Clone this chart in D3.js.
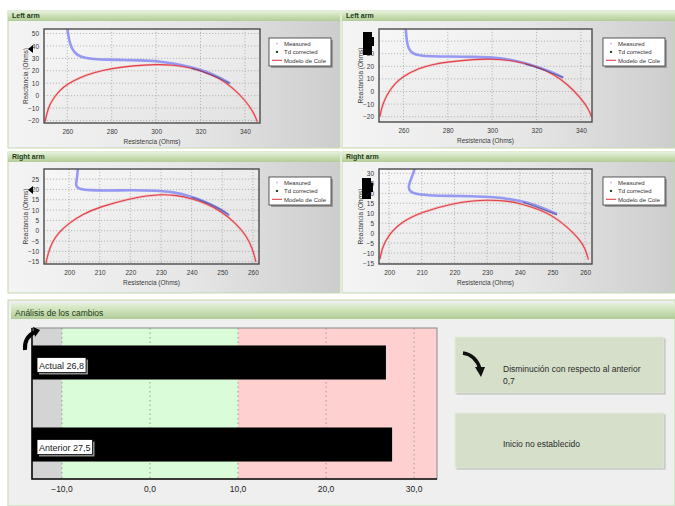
<!DOCTYPE html>
<html>
<head>
<meta charset="utf-8">
<script src="https://cdn.jsdelivr.net/npm/d3@7"></script>
<style>
body { margin: 0; background: #fff; }
svg { display: block; font-family: "Liberation Sans", Arial, sans-serif; }
</style>
</head>
<body>
<svg id="chart" width="675" height="506"></svg>
<script>
// ---- impedance panels ----
const panelTitles = ["Left arm", "Left arm", "Right arm", "Right arm"];
const legendLabels = ["Measured", "Td corrected", "Modelo de Cole"];

const leftArm1Measured = [[260,54],[260.9,43.4],[262,38.1],[263.5,34.1],[265.7,31.3],[270.2,29.5],[277.7,28.9],[285.2,28.7],[292.7,28.4],[300.3,27.9],[307.7,26],[315.3,23.3],[322.8,19.3],[328.8,14.4],[333.3,9.9]];
const leftArm1Td = [[316,22],[321,19.4],[325.5,16.2],[329.5,13.2],[333,10]];
const leftArm1Cole = [[250,-21],[250.8,-14],[252,-7.5],[254,-1.5],[256.7,4.5],[260,9.3],[265.7,14.6],[271.7,18.5],[280,21.9],[289.7,24.1],[300,25.2],[307.7,24.7],[315.3,22.5],[320,20.2],[328.8,14],[334.8,5.9],[340,-3.5],[343.8,-12.9],[345.6,-21]];

const leftArm2Measured = [[261,51],[261.5,39.8],[262.2,34.5],[263.7,30.5],[266.7,28.6],[272.7,27.8],[280.2,27.8],[292.2,27.5],[300,27],[307.2,25.7],[314.7,22.5],[322.2,18.5],[328.2,14.5],[332,11]];
const leftArm2Td = [[315,21.8],[320,19.2],[325,16],[329,13.2],[332,11]];
const leftArm2Cole = [[249.4,-20],[250.2,-13],[251.5,-6.5],[253.5,0],[256.3,6.5],[260,12.2],[266.7,18.3],[273,21.5],[280,23.5],[292.2,25.6],[300,25.9],[310.2,24.6],[320,20],[328.2,13.4],[334.2,5.4],[340,-5.3],[343.3,-13.3],[344.8,-20]];

const rightArm1Measured = [[202.9,31],[202.6,25.3],[202.2,22.9],[202.4,21.2],[203.5,20.1],[206.7,19.6],[212.2,19.4],[220.8,19.7],[228.5,19.4],[233.9,18.8],[239.3,16.8],[244.8,13.9],[249.1,10.7],[252.3,7.4]];
const rightArm1Td = [[240,16.2],[244,14.2],[248,11.6],[252,8]];
const rightArm1Cole = [[192.4,-15.9],[193.2,-10.5],[194.5,-5.5],[196.5,-1],[200,3.8],[204.6,8.1],[210,11.6],[220,15.6],[225.2,16.9],[230.1,17.6],[235,17.2],[239.9,15.6],[244.8,13.2],[250,9.1],[254.5,3.5],[257.8,-2.2],[259.9,-8.6],[261,-15.1]];

const rightArm2Measured = [[208,33],[206.8,27.5],[205.8,23.3],[206.3,20.8],[208.3,19.5],[212.9,18.8],[221,18.7],[229.1,18.3],[236.2,17.5],[242.2,15.5],[247.3,12.5],[251.4,9.5]];
const rightArm2Td = [[241,15.4],[245,13.2],[248.5,11],[251.4,9.3]];
const rightArm2Cole = [[197.2,-13],[197.8,-8],[199,-3.5],[200.8,0.8],[203.8,5.5],[209.8,10.6],[219.8,15],[226,16.3],[229.9,16.6],[236.2,16.2],[239.9,15],[246.3,11.7],[250.4,8.3],[254.4,3.3],[258,-2.5],[260,-7.5],[261,-13.3]];

const xTicksLeft = [260, 280, 300, 320, 340];
const xTicksRight = [200, 210, 220, 230, 240, 250, 260];
const yTicksLeft1 = [-20, -10, 0, 10, 20, 30, 40, 50];
const yTicksLeft2 = [-20, -10, 0, 10, 20, 30, 40];
const yTicksRight1 = [-15, -10, -5, 0, 5, 10, 15, 20, 25];
const yTicksRight2 = [-15, -10, -5, 0, 5, 10, 15, 20, 25, 30];

// ---- change analysis ----
const barCategories = ["Actual", "Anterior"];
const barValues = [26.8, 27.5];
const zoneEdges = [-10, 10];
const barTicks = [-10, 0, 10, 20, 30];
const changeText = ["Disminución con respecto al anterior", "0,7"];
const startText = "Inicio no establecido";

const svg = d3.select("#chart");
const defs = svg.append("defs");

function grad(id, x2, y2, stops) {
    const g = defs.append("linearGradient").attr("id", id)
        .attr("x1", "0%").attr("y1", "0%").attr("x2", x2).attr("y2", y2);
    stops.forEach(s => g.append("stop").attr("offset", s[0]).attr("stop-color", s[1]));
}
grad("panelBg", "100%", "0%", [["0%", "#f4f4f4"], ["55%", "#e6e6e6"], ["100%", "#cdcdcd"]]);
grad("plotBg", "100%", "100%", [["0%", "#f7f7f7"], ["100%", "#e2e2e2"]]);
grad("header", "0%", "100%", [["0%", "#e6f0dc"], ["45%", "#cde2b8"], ["100%", "#b2cc98"]]);

const fmtComma = v => d3.format(".1f")(v).replace(".", ",");

function header(x, y, w, h, title, bold, size) {
    svg.append("rect").attr("x", x).attr("y", y).attr("width", w).attr("height", h)
        .attr("fill", "url(#header)");
    svg.append("text").attr("x", x + 4).attr("y", y + h - 3)
        .attr("font-size", size).attr("font-weight", bold ? "bold" : "normal")
        .attr("fill", "#243a1c").text(title);
}

function drawPanel(p) {
    const [px, py, pw, ph] = p.box;
    svg.append("rect").attr("x", px).attr("y", py).attr("width", pw).attr("height", ph)
        .attr("fill", "url(#panelBg)").attr("stroke", "#c3d8ae");
    header(px, py, pw, 10, p.title, true, 7);

    const [l, t, r, b] = p.plot;
    const x = d3.scaleLinear().domain(p.xDomain).range([l, r]);
    const y = d3.scaleLinear().domain(p.yDomain).range([b, t]);

    svg.append("rect").attr("x", l).attr("y", t).attr("width", r - l).attr("height", b - t)
        .attr("fill", "url(#plotBg)");

    const grid = svg.append("g").attr("stroke", "#a9a9a9").attr("stroke-dasharray", "1.2,1.8").attr("stroke-width", 0.8);
    p.xTicks.forEach(v => grid.append("line").attr("x1", x(v)).attr("x2", x(v)).attr("y1", t).attr("y2", b));
    p.yTicks.forEach(v => grid.append("line").attr("x1", l).attr("x2", r).attr("y1", y(v)).attr("y2", y(v)));

    const clipId = "clip" + p.id;
    defs.append("clipPath").attr("id", clipId).append("rect")
        .attr("x", l).attr("y", t).attr("width", r - l).attr("height", b - t);
    const marks = svg.append("g").attr("clip-path", `url(#${clipId})`);
    const line = d3.line().x(d => x(d[0])).y(d => y(d[1])).curve(d3.curveBasis);

    marks.append("path").attr("d", line(p.cole)).attr("fill", "none")
        .attr("stroke", "#f4a0a0").attr("stroke-width", 2.4).attr("opacity", 0.6);
    marks.append("path").attr("d", line(p.measured)).attr("fill", "none")
        .attr("stroke", "#8589f2").attr("stroke-width", 2.6).attr("opacity", 0.85);
    marks.append("path").attr("d", line(p.cole)).attr("fill", "none")
        .attr("stroke", "#e0404a").attr("stroke-width", 1.1);
    marks.append("path").attr("d", line(p.td)).attr("fill", "none")
        .attr("stroke", "#4b3f7a").attr("stroke-width", 1.3).attr("opacity", 0.6);

    svg.append("rect").attr("x", l).attr("y", t).attr("width", r - l).attr("height", b - t)
        .attr("fill", "none").attr("stroke", "#4a4a4a").attr("stroke-width", 1.4);

    const ax = svg.append("g").attr("transform", `translate(0,${b})`)
        .call(d3.axisBottom(x).tickValues(p.xTicks).tickSize(0).tickPadding(6));
    const ay = svg.append("g").attr("transform", `translate(${l},0)`)
        .call(d3.axisLeft(y).tickValues(p.yTicks).tickSize(0).tickPadding(5));
    [ax, ay].forEach(a => {
        a.select(".domain").remove();
        a.selectAll("text").attr("font-size", 6.5).attr("fill", "#3a3a3a")
            .attr("font-family", "Liberation Sans, Arial, sans-serif");
    });

    svg.append("text").attr("x", (l + r) / 2).attr("y", b + 21).attr("text-anchor", "middle")
        .attr("font-size", 6.5).attr("fill", "#3a3a3a").text("Resistencia (Ohms)");
    svg.append("text").attr("transform", `translate(${l - 16},${(t + b) / 2}) rotate(-90)`)
        .attr("text-anchor", "middle").attr("font-size", 6.5).attr("fill", "#3a3a3a")
        .text("Reactancia (Ohms)");

    // legend
    const [lx, ly] = p.legend;
    svg.append("rect").attr("x", lx + 2).attr("y", ly + 2).attr("width", 62).attr("height", 28).attr("fill", "#9a9a9a");
    svg.append("rect").attr("x", lx).attr("y", ly).attr("width", 62).attr("height", 28)
        .attr("fill", "#fff").attr("stroke", "#333").attr("stroke-width", 0.8);
    legendLabels.forEach((lab, i) => {
        const cy = ly + 5.5 + i * 8.4;
        if (i === 0) svg.append("circle").attr("cx", lx + 8).attr("cy", cy).attr("r", 0.9).attr("fill", "#c9b8e0");
        if (i === 1) svg.append("circle").attr("cx", lx + 8).attr("cy", cy).attr("r", 1.2).attr("fill", "#1f4a2a");
        if (i === 2) svg.append("line").attr("x1", lx + 3).attr("x2", lx + 13).attr("y1", cy).attr("y2", cy)
            .attr("stroke", "#e0404a").attr("stroke-width", 1.1);
        svg.append("text").attr("x", lx + 15).attr("y", cy + 2.2).attr("font-size", 6)
            .attr("fill", "#333").text(lab);
    });

    if (p.cover) {
        svg.append("path").attr("d", p.cover).attr("fill", "#000");
    }
    if (p.mark) {
        svg.append("path").attr("d", p.mark).attr("fill", "#000");
    }
}

const panels = [
    { id: 0, title: panelTitles[0], box: [8, 11, 332, 137], plot: [44, 29, 260, 123],
      xDomain: [249.5, 346.8], yDomain: [-22, 53.6], xTicks: xTicksLeft, yTicks: yTicksLeft1,
      measured: leftArm1Measured, td: leftArm1Td, cole: leftArm1Cole, legend: [269, 38],
      mark: "M28,49 L33,45 L33,53 Z" },
    { id: 1, title: panelTitles[1], box: [342, 11, 333, 137], plot: [379, 29, 592, 122],
      xDomain: [249, 345], yDomain: [-24.2, 49.6], xTicks: xTicksLeft, yTicks: yTicksLeft2,
      measured: leftArm2Measured, td: leftArm2Td, cole: leftArm2Cole, legend: [603, 38],
      cover: "M363,32 H372 V37 H374 V46 H372 V55 H363 Z" },
    { id: 2, title: panelTitles[2], box: [8, 152, 332, 141], plot: [44, 169, 259, 264],
      xDomain: [191.8, 262], yDomain: [-16.1, 29.9], xTicks: xTicksRight, yTicks: yTicksRight1,
      measured: rightArm1Measured, td: rightArm1Td, cole: rightArm1Cole, legend: [269, 177],
      mark: "M28,190 L33,186 L33,194 Z" },
    { id: 3, title: panelTitles[3], box: [342, 152, 333, 141], plot: [379, 169, 592, 264],
      xDomain: [196.9, 262.1], yDomain: [-15.5, 32.2], xTicks: xTicksRight, yTicks: yTicksRight2,
      measured: rightArm2Measured, td: rightArm2Td, cole: rightArm2Cole, legend: [603, 177],
      cover: "M362,178 H371 V183 H373 V192 H371 V199 H362 Z" }
];
panels.forEach(drawPanel);

// ---- bottom section ----
svg.append("rect").attr("x", 8).attr("y", 300).attr("width", 667).attr("height", 206)
    .attr("fill", "#efefef").attr("stroke", "#c3d8ae");
header(11, 303, 664, 16, "Análisis de los cambios", false, 8.5);

const bl = 32, bt = 328, br = 437, bb = 479;
const bx = d3.scaleLinear().domain([-13.4, 32.6]).range([bl, br]);
const by = d3.scaleBand().domain(barCategories).range([bt, bb]).paddingInner(0.585).paddingOuter(0.213);

const zones = [[bx.domain()[0], zoneEdges[0], "#d4d4d4"], [zoneEdges[0], zoneEdges[1], "#dbfcd9"], [zoneEdges[1], bx.domain()[1], "#ffd0d0"]];
zones.forEach(z => svg.append("rect").attr("x", bx(z[0])).attr("y", bt)
    .attr("width", bx(z[1]) - bx(z[0])).attr("height", bb - bt).attr("fill", z[2]));

barTicks.forEach(v => svg.append("line").attr("x1", bx(v)).attr("x2", bx(v)).attr("y1", bt).attr("y2", bb)
    .attr("stroke", "#9a9a9a").attr("stroke-dasharray", "1.5,3").attr("stroke-width", 1));

svg.append("rect").attr("x", bl).attr("y", bt).attr("width", br - bl).attr("height", bb - bt)
    .attr("fill", "none").attr("stroke", "#8a8a8a");
svg.append("path").attr("d", `M${bl},${bt} V${bb} H${br}`).attr("fill", "none")
    .attr("stroke", "#111").attr("stroke-width", 1.6);

barCategories.forEach((c, i) => {
    svg.append("rect").attr("x", bx(bx.domain()[0])).attr("y", by(c))
        .attr("width", bx(barValues[i]) - bx(bx.domain()[0])).attr("height", by.bandwidth())
        .attr("fill", "#000");
    const label = `${c} ${fmtComma(barValues[i])}`;
    const cy = by(c) + by.bandwidth() / 2 + 3;
    const t = svg.append("text").attr("x", 39).attr("y", cy + 3.2).attr("font-size", 9)
        .attr("fill", "#222").text(label);
    const w = t.node().getComputedTextLength() + 4;
    svg.insert("rect", () => t.node()).attr("x", 39).attr("y", cy - 6).attr("width", w).attr("height", 15)
        .attr("fill", "#8c8c8c");
    svg.insert("rect", () => t.node()).attr("x", 37).attr("y", cy - 8).attr("width", w).attr("height", 15)
        .attr("fill", "#fff").attr("stroke", "#000").attr("stroke-width", 0.8);
});

barTicks.forEach(v => svg.append("text").attr("x", bx(v)).attr("y", 492).attr("text-anchor", "middle")
    .attr("font-size", 8.5).attr("fill", "#222").text(fmtComma(v)));

// curved marker at the top-left of the bar chart
svg.append("path").attr("d", "M25,350 Q24,337 35,332").attr("fill", "none")
    .attr("stroke", "#000").attr("stroke-width", 4);
svg.append("path").attr("d", "M33,327 L40,330 L35,337 Z").attr("fill", "#000");

// info boxes
function infoBox(x, y, w, h) {
    svg.append("rect").attr("x", x + 1.5).attr("y", y + 1.5).attr("width", w).attr("height", h).attr("fill", "#b9b9b9");
    svg.append("rect").attr("x", x).attr("y", y).attr("width", w).attr("height", h)
        .attr("fill", "#d6dfca").attr("stroke", "#e4eadb").attr("stroke-width", 0.8);
}
infoBox(455, 337, 209, 56);
infoBox(455, 413, 209, 55);

svg.append("path").attr("d", "M463,353 Q476,355 480,369").attr("fill", "none")
    .attr("stroke", "#111").attr("stroke-width", 3.5);
svg.append("path").attr("d", "M475,367 L485,367 L481,377 Z").attr("fill", "#111");

changeText.forEach((s, i) => svg.append("text").attr("x", 503).attr("y", 372 + i * 12)
    .attr("font-size", 8.5).attr("fill", "#2a2a2a").text(s));
svg.append("text").attr("x", 503).attr("y", 447).attr("font-size", 8.5).attr("fill", "#2a2a2a").text(startText);
</script>
</body>
</html>
